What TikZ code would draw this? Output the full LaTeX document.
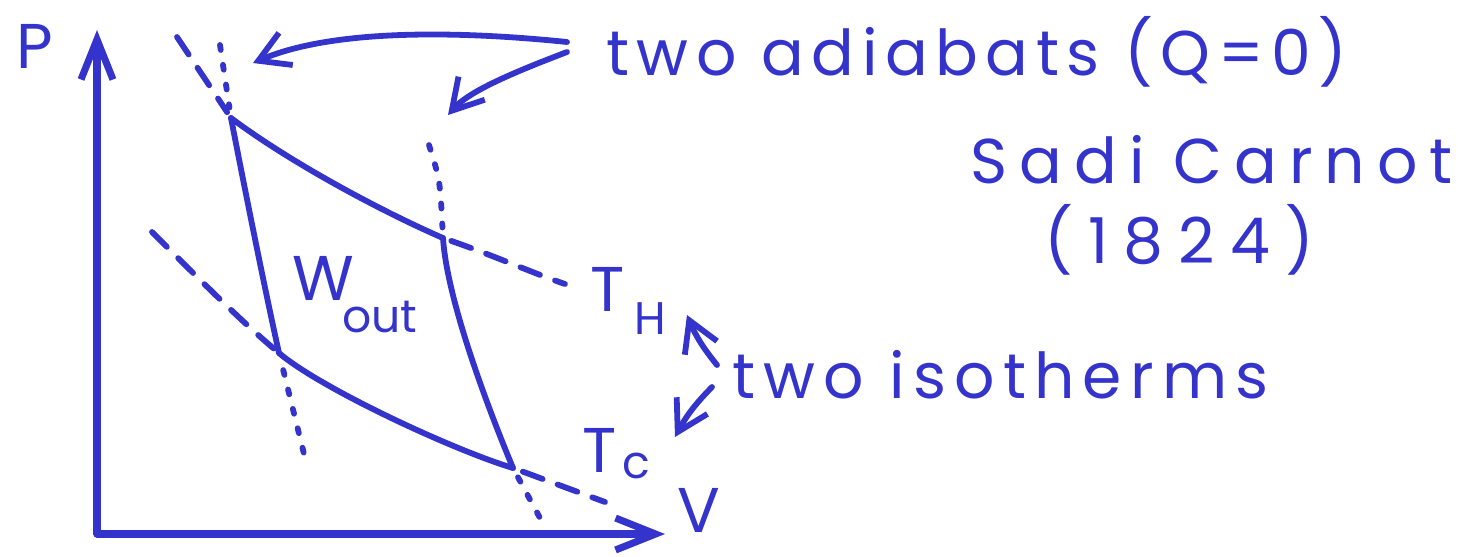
\documentclass[tikz,border=0pt]{standalone}
\usepackage{fontspec}
\setmainfont{Poppins}
\usetikzlibrary{arrows.meta, positioning}
\definecolor{encre}{RGB}{52,52,204}

\begin{document}
\begin{tikzpicture}[x=0.02cm, y=-0.02cm,
  trait/.style={encre, line width=3.3pt, line cap=round, line join=round},
  axe/.style={trait, line width=4pt, -{Straight Barb[length=0.8cm, width=0.64cm]}},
  isotherme/.style={trait, dash pattern=on 0.42cm off 0.32cm},
  adiabate/.style={trait, dash pattern=on 0.1cm off 0.3cm},
  fleche/.style={trait, -{Straight Barb[length=0.6cm, width=0.7cm]}},
  texte/.style={encre, inner sep=0pt, font=\fontsize{36}{42}\selectfont},
  indice/.style={encre, inner sep=0pt, font=\fontsize{26}{30}\selectfont},
  espace/.style={font=\fontsize{36}{42}\selectfont\addfontfeature{LetterSpace=#1}}]
\useasboundingbox (0,0) rectangle (1475,556);
% axes
\coordinate (O) at (97,534);
\coordinate (Pmax) at (97,30);
\coordinate (Vmax) at (665,534);
\draw[axe] (O) -- (Pmax);
\draw[axe] (O) -- (Vmax);
\node[texte] (P) at (35,46) {P};
\node[texte, anchor=base] (V) at (699,532) {V};
% cycle de Carnot
\coordinate (A) at (231,118);
\coordinate (B) at (443,238);
\coordinate (C) at (513,468);
\coordinate (D) at (279,353);
\draw[trait] (A) .. controls (291,163) and (383,212) .. (B);
\draw[trait] (B) .. controls (447,300) and (488,408) .. (C);
\draw[trait] (D) .. controls (320,388) and (453,450) .. (C);
\draw[trait] (A) .. controls (245,190) and (265,290) .. (D);
% prolongements
\coordinate (Ah) at (177,37);
\coordinate (Aa) at (220,45);
\coordinate (Ba) at (429,145);
\coordinate (Bh) at (565,284);
\coordinate (Dc) at (152,232);
\coordinate (Da) at (306,462);
\coordinate (Cc) at (605,502);
\coordinate (Ca) at (540,518);
\draw[isotherme, shorten >=4pt] (Ah) -- (A);
\draw[adiabate, shorten >=6pt] (Aa) -- (A);
\draw[adiabate, shorten >=6pt] (Ba) .. controls (440,180) .. (B);
\draw[isotherme, shorten <=5pt] (B) .. controls (500,258) and (530,272) .. (Bh);
\draw[isotherme, shorten >=4pt] (Dc) .. controls (200,280) and (240,320) .. (D);
\draw[adiabate, shorten <=10pt] (D) -- (Da);
\draw[isotherme, shorten <=6pt] (C) -- (Cc);
\draw[adiabate, shorten <=6pt] (C) -- (Ca);
% textes
\node[texte, anchor=base west] (W) at (292,300) {W};
\node[indice, anchor=base west] (out) at (342,332) {out};
\node[texte, anchor=base west] (TH) at (590,311) {T};
\node[indice, anchor=base west] (H) at (634,334) {H};
\node[texte, anchor=base west] (TC) at (582,472) {T};
\node[indice, anchor=base west] (c) at (622,478) {c};
\node[texte, espace=12, anchor=base west] (adiab) at (606,75) {two adiabats (Q=0)};
\node[texte, espace=19, anchor=base west] (sadi) at (970,183) {Sadi Carnot};
\node[texte, espace=24, anchor=base west] (annee) at (1044,263) {(1824)};
\node[texte, espace=13, anchor=base west] (iso) at (732,398) {two isotherms};
% fleches
\coordinate (d1) at (567,42);
\coordinate (f1) at (253,63);
\coordinate (d2) at (567,52);
\coordinate (f2) at (448,115);
\coordinate (d3) at (717,365);
\coordinate (f3) at (687,315);
\coordinate (d4) at (712,387);
\coordinate (f4) at (675,437);
\draw[fleche] (d1) .. controls (450,30) and (330,30) .. (f1);
\draw[fleche] (d2) .. controls (520,70) and (470,90) .. (f2);
\draw[fleche] (d3) to[bend left=8] (f3);
\draw[fleche] (d4) to[bend right=8] (f4);
\end{tikzpicture}
\end{document}
